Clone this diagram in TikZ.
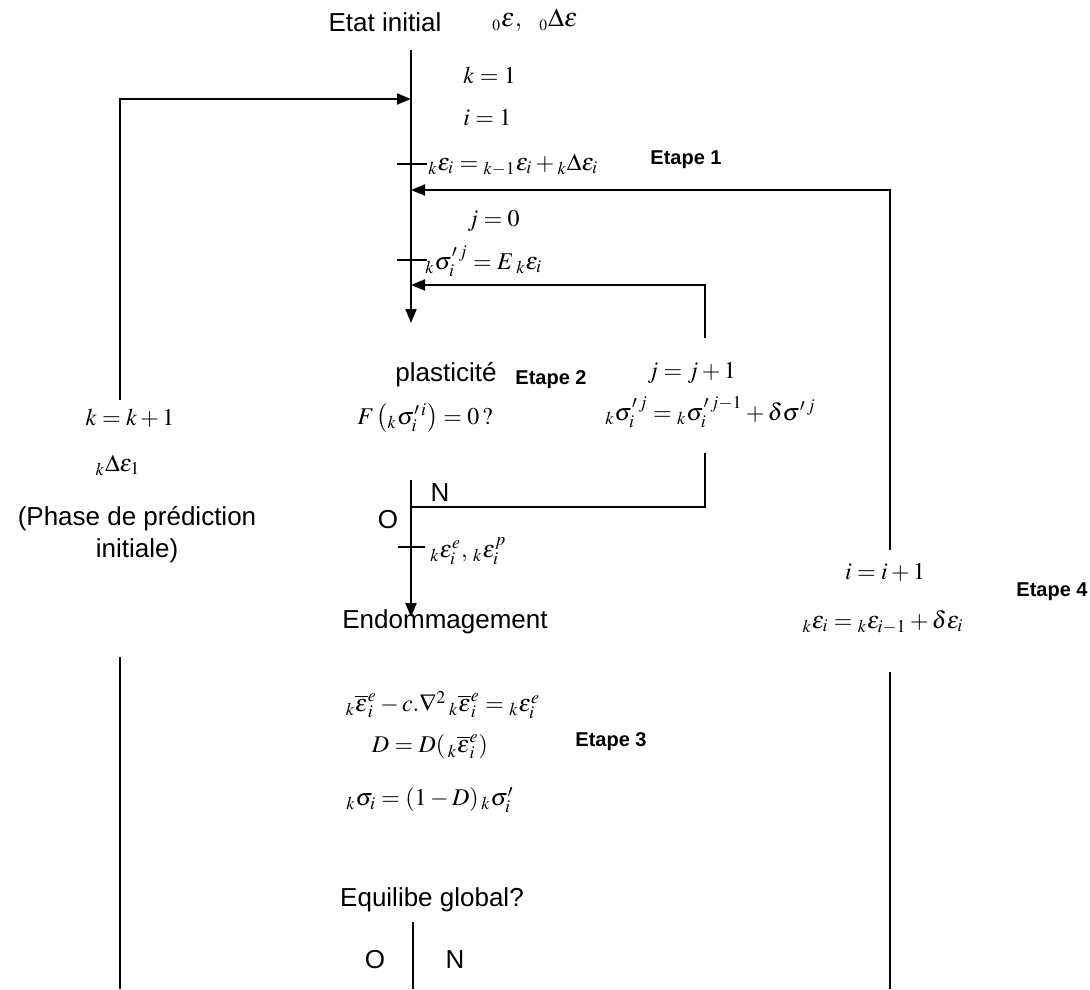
\documentclass[tikz,border=0pt]{standalone}
\usepackage{mathptmx}
\usepackage[no-math]{fontspec}
\setmainfont{Liberation Sans}
\usetikzlibrary{arrows.meta}
\tikzset{
  lbl/.style={font=\fontsize{13}{16}\selectfont, inner sep=0pt},
  mth/.style={font=\fontsize{12}{14}\selectfont, inner sep=0pt},
  etape/.style={font=\fontsize{10}{12}\selectfont\bfseries, inner sep=0pt},
  ln/.style={line width=1pt},
  arr/.style={line width=1pt, -{Triangle[length=7pt,width=5.5pt]}},
}
\begin{document}
\begin{tikzpicture}[x=0.5pt,y=-0.5pt]
\useasboundingbox (0,0) rectangle (1090,989);
% texts
\node[lbl] (etat) at (385,22) {Etat initial};
\node[mth,font=\fontsize{13}{15}\selectfont] (eps0) at (535,20) {${}_{\scriptscriptstyle 0}\varepsilon,\ \ {}_{\scriptscriptstyle 0}\Delta\varepsilon$};
\node[mth,anchor=west] (k1) at (463,75) {$k=1$};
\node[mth,anchor=west] (i1) at (463,118) {$i=1$};
\node[mth,anchor=west] (epsk) at (428,165) {${}_{k}\varepsilon_{i}={}_{k-1}\varepsilon_{i}+{}_{k}\Delta\varepsilon_{i}$};
\node[etape,anchor=west] (et1) at (650,160) {Etape 1};
\node[mth,anchor=west] (j0) at (467,221) {$j=0$};
\node[mth,anchor=west] (sig0) at (425,261) {${}_{k}\sigma'^{\,j}_{i}=E\,{}_{k}\varepsilon_{i}$};
\node[lbl,anchor=west] (plast) at (395,375) {plasticité};
\node[etape,anchor=west] (et2) at (515,380) {Etape 2};
\node[mth,anchor=west] (F) at (357,418) {$F\left({}_{k}\sigma'^{\,i}_{i}\right)=0\,?$};
\node[mth,anchor=west] (jj) at (647,373) {$j=j+1$};
\node[mth,anchor=west] (sigj) at (605,412) {${}_{k}\sigma'^{\,j}_{i}={}_{k}\sigma'^{\,j-1}_{i}+\delta\sigma'^{\,j}$};
\node[mth] (kk) at (130,418) {$k=k+1$};
\node[mth] (dk) at (118,465) {${}_{k}\Delta\varepsilon_{1}$};
\node[lbl,align=center] (phase) at (137,535) {(Phase de prédiction\\initiale)};
\node[lbl] (O1) at (388,520) {O};
\node[lbl] (N1) at (440,493) {N};
\node[mth,anchor=west] (epp) at (430,551) {${}_{k}\varepsilon^{e}_{i},\,{}_{k}\varepsilon^{p}_{i}$};
\node[lbl] (endo) at (445,622) {Endommagement};
\node[mth] (ii) at (885,572) {$i=i+1$};
\node[etape,anchor=east] (et4) at (1088,592) {Etape 4};
\node[mth] (epsi) at (883,622) {${}_{k}\varepsilon_{i}={}_{k}\varepsilon_{i-1}+\delta\varepsilon_{i}$};
\node[mth] (nl) at (443,705) {${}_{k}\overline{\varepsilon}^{e}_{i}-c.\nabla^{2}\,{}_{k}\overline{\varepsilon}^{e}_{i}={}_{k}\varepsilon^{e}_{i}$};
\node[mth] (DD) at (430,747) {$D=D(\,{}_{k}\overline{\varepsilon}^{e}_{i})$};
\node[etape,anchor=west] (et3) at (575,742) {Etape 3};
\node[mth] (sigD) at (430,800) {${}_{k}\sigma_{i}=\left(1-D\right){}_{k}\sigma'_{i}$};
\node[lbl] (equi) at (432,900) {Equilibe global?};
\node[lbl] (O2) at (375,960) {O};
\node[lbl] (N2) at (455,960) {N};
% coordinates
\coordinate (mTop) at (411,50);
\coordinate (mArr) at (411,323);
\coordinate (lTop) at (120,99);
\coordinate (lEnd) at (120,400);
\coordinate (mIn1) at (411,99);
\coordinate (rEnd) at (890,550);
\coordinate (mIn2) at (411,190);
\coordinate (jUp) at (705,338);
\coordinate (mIn3) at (411,285);
\coordinate (jDn) at (705,453);
\coordinate (mBr) at (411,507);
\coordinate (m2Top) at (411,480);
\coordinate (m2Arr) at (411,617);
\coordinate (lLow) at (120,657);
\coordinate (lBot) at (120,989);
\coordinate (rLow) at (890,672);
\coordinate (rBot) at (890,989);
\coordinate (bTop) at (413,922);
\coordinate (bBot) at (413,989);
% connectors
\draw[arr] (mTop) -- (mArr);
\draw[arr] (lEnd) |- (mIn1);
\draw[arr] (rEnd) |- (mIn2);
\draw[arr] (jUp) |- (mIn3);
\draw[ln] (jDn) |- (mBr);
\draw[arr] (m2Top) -- (m2Arr);
\draw[ln] (lLow) -- (lBot);
\draw[ln] (rLow) -- (rBot);
\draw[ln] (bTop) -- (bBot);
% ticks
\draw[ln] (397,164) -- (427,164);
\draw[ln] (397,260) -- (427,260);
\draw[ln] (398,547) -- (425,547);
\end{tikzpicture}
\end{document}
